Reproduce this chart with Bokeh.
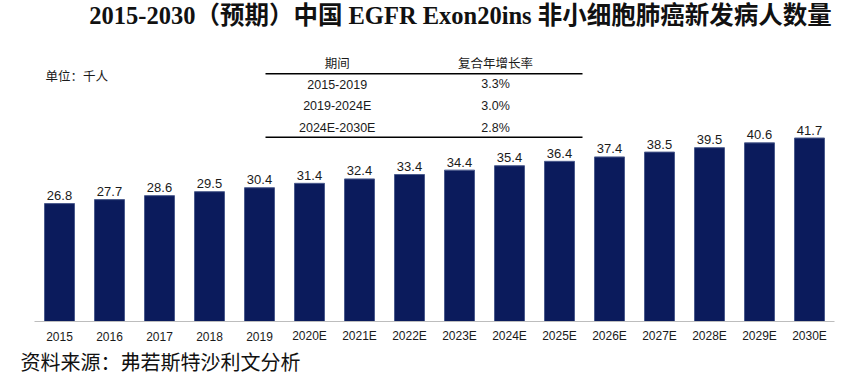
from bokeh.plotting import figure
from bokeh.models import FactorRange, Range1d, Label, ColumnDataSource
from bokeh.core.properties import value
from bokeh.embed import file_html
from bokeh.resources import INLINE

# ---- data ----
years = ["2015", "2016", "2017", "2018", "2019", "2020E", "2021E", "2022E",
         "2023E", "2024E", "2025E", "2026E", "2027E", "2028E", "2029E", "2030E"]
patients = [26.8, 27.7, 28.6, 29.5, 30.4, 31.4, 32.4, 33.4,
            34.4, 35.4, 36.4, 37.4, 38.5, 39.5, 40.6, 41.7]
table_header = ["期间", "复合年增长率"]
periods = ["2015-2019", "2019-2024E", "2024E-2030E"]
cagr = ["3.3%", "3.0%", "2.8%"]
title_text = "2015-2030（预期）中国 EGFR Exon20ins 非小细胞肺癌新发病人数量"
unit_text = "单位：千人"
source_text = "资料来源：弗若斯特沙利文分析"

# ---- layout (frame fills the canvas height) ----
W, H = 849, 375
LEFT = 19
BASE = 321          # canvas-y of the baseline
PX_PER_UNIT = 4.40
PAD = 0.30
CAT_PX = 50

SANS = "Liberation Sans, Arial, Noto Sans CJK SC"
CJK = "Noto Sans CJK SC"
SERIF = "Liberation Serif, Times New Roman, Noto Sans CJK SC"


def fx(px):
    return (px - LEFT) / CAT_PX - PAD


def fy(py):
    return (BASE - py) / PX_PER_UNIT


p = figure(width=W, height=H,
           x_range=FactorRange(factors=years, range_padding=PAD,
                               range_padding_units="absolute"),
           y_range=Range1d(-(H - BASE) / PX_PER_UNIT, BASE / PX_PER_UNIT),
           output_backend="svg", toolbar_location=None,
           x_axis_location=None, y_axis_location=None,
           min_border_left=LEFT, min_border_right=0,
           min_border_top=0, min_border_bottom=0)
p.outline_line_color = None
p.xgrid.grid_line_color = None
p.ygrid.grid_line_color = None
p.background_fill_color = "white"
p.border_fill_color = "white"

src = ColumnDataSource(dict(x=years, top=patients, zero=[0] * len(years),
                            lab=["%.1f" % v for v in patients]))
p.vbar(x="x", top="top", width=0.6, source=src,
       fill_color="#0b1b5c", line_color="#4a5a8c", line_width=1)
# value labels
p.text(x="x", y="top", text="lab", source=src, text_align="center",
       text_baseline="alphabetic", y_offset=-8,
       text_font=value(SANS), text_font_size="13px", text_color="#1a1a1a")
# category labels
p.text(x="x", y="zero", text="x", source=src, text_align="center",
       text_baseline="middle", y_offset=14.5,
       text_font=value(SANS), text_font_size="12px", text_color="#1a1a1a")
# baseline across the category extent
p.segment(x0=[0], x1=[len(years)], y0=[0], y1=[0],
          line_color="#bdbdbd", line_width=1.2)

# ---- table ----
p.segment(x0=[fx(265), fx(265)], x1=[fx(582), fx(582)],
          y0=[fy(73.3), fy(136.7)], y1=[fy(73.3), fy(136.7)],
          line_color="black", line_width=1.5)
p.text(x=[fx(336.7), fx(495)], y=[fy(62), fy(62)], text=table_header,
       text_align="center", text_baseline="middle",
       text_font=value(CJK), text_font_size="12.5px", text_color="#1a1a1a")
p.text(x=[fx(336.7)] * len(periods), y=[fy(83.5), fy(105.5), fy(127.5)],
       text=periods, text_align="center", text_baseline="middle",
       text_font=value(SANS), text_font_size="12.5px", text_color="#1a1a1a")
p.text(x=[fx(495)] * len(cagr), y=[fy(83.5), fy(105.5), fy(127.5)],
       text=cagr, text_align="center", text_baseline="middle",
       text_font=value(SANS), text_font_size="12.5px", text_color="#1a1a1a")

# ---- texts ----
p.add_layout(Label(x=fx(460), y=fy(15), text=title_text,
                   text_align="center", text_baseline="middle",
                   text_font=SERIF, text_font_style="bold",
                   text_font_size="24.5px", text_color="#111111"))
p.add_layout(Label(x=fx(45), y=fy(75), text=unit_text,
                   text_align="left", text_baseline="middle",
                   text_font=CJK, text_font_size="12.5px",
                   text_color="#1a1a1a"))
p.add_layout(Label(x=fx(20), y=fy(361), text=source_text,
                   text_align="left", text_baseline="middle",
                   text_font=CJK, text_font_size="20px",
                   text_color="#111111"))

open("out.html", "w").write(file_html(p, INLINE))
